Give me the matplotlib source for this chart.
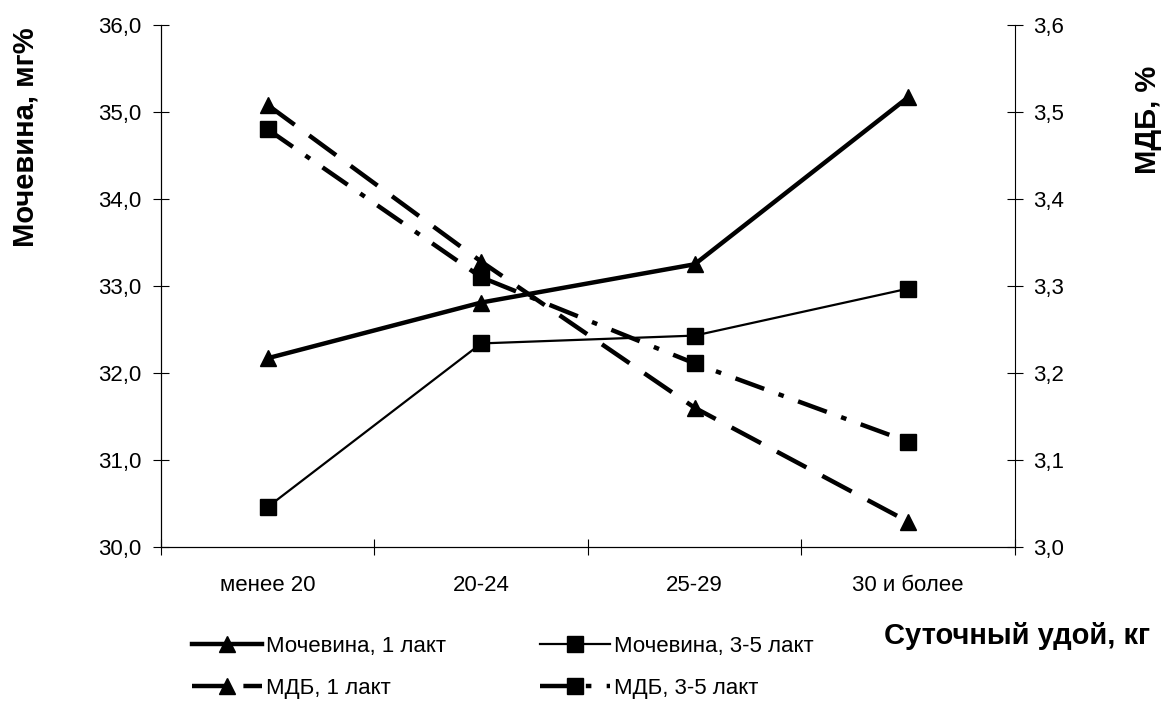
import matplotlib
matplotlib.use('Agg')
import matplotlib.pyplot as plt
from matplotlib.ticker import FuncFormatter

plt.rcParams['font.family'] = ['Liberation Sans', 'DejaVu Sans']
plt.rcParams['lines.scale_dashes'] = False

# группы по суточному удою
categories = ['менее 20', '20-24', '25-29', '30 и более']

# мочевина, мг%
urea_1 = [32.17, 32.81, 33.25, 35.17]
urea_35 = [30.46, 32.34, 32.43, 32.97]

# МДБ, %
mdb_1 = [3.508, 3.328, 3.160, 3.029]
mdb_35 = [3.480, 3.310, 3.211, 3.121]

x = list(range(len(categories)))
fs = 16

fig = plt.figure(figsize=(11.65, 7.01), dpi=100)
ax = fig.add_axes([0.1382, 0.2197, 0.7330, 0.7446])
ax2 = ax.twinx()

l1, = ax.plot(x, urea_1, color='black', lw=3.2, marker='^', ms=12,
              label='Мочевина, 1 лакт')
l2, = ax.plot(x, urea_35, color='black', lw=1.6, marker='s', ms=11,
              label='Мочевина, 3-5 лакт')
l3, = ax2.plot(x, mdb_1, color='black', lw=3.2, marker='^', ms=12,
               dashes=(24, 13), label='МДБ, 1 лакт')
l4, = ax2.plot(x, mdb_35, color='black', lw=3.2, marker='s', ms=11,
               dashes=(22, 11, 4, 11), label='МДБ, 3-5 лакт')

ax.set_xlim(-0.5, 3.5)
ax.set_ylim(30, 36)
ax2.set_ylim(3.0, 3.6)

comma = lambda fmt: FuncFormatter(lambda v, p: (fmt % v).replace('.', ','))
ax.set_yticks([30, 31, 32, 33, 34, 35, 36])
ax.yaxis.set_major_formatter(comma('%.1f'))
ax2.set_yticks([3.0, 3.1, 3.2, 3.3, 3.4, 3.5, 3.6])
ax2.yaxis.set_major_formatter(comma('%.1f'))

# деления между группами, подписи групп по центру
ax.set_xticks([-0.5, 0.5, 1.5, 2.5, 3.5])
ax.set_xticklabels([])
ax.set_xticks(x, minor=True)
ax.set_xticklabels(categories, minor=True)
ax.tick_params(axis='x', which='minor', length=0, pad=20, labelsize=fs)
ax.tick_params(axis='x', which='major', direction='inout', length=12, width=0.8)
ax.tick_params(axis='y', direction='inout', length=12, width=0.8, pad=8, labelsize=fs)
ax2.tick_params(axis='y', direction='inout', length=12, width=0.8, pad=7, labelsize=fs)

for a in (ax, ax2):
    a.spines['top'].set_visible(False)
    for s in ('left', 'right', 'bottom'):
        a.spines[s].set_linewidth(0.8)
ax.spines['right'].set_visible(False)

fig.text(0.0223, 0.805, 'Мочевина, мг%', rotation=90, ha='center', va='center',
         fontsize=21, fontweight='bold')
fig.text(0.9854, 0.829, 'МДБ, %', rotation=90, ha='center', va='center',
         fontsize=21, fontweight='bold')
fig.text(0.873, 0.093, 'Суточный удой, кг', ha='center', va='center',
         fontsize=21, fontweight='bold')

# легенда в две колонки: 1 лакт и 3-5 лакт
leg_kw = dict(loc='upper left', frameon=False, fontsize=fs, handlelength=3.15,
              handletextpad=0.2, labelspacing=0.95, borderaxespad=0, borderpad=0)
fig.legend(handles=[l1, l3], bbox_to_anchor=(192 / 1165, 1 - 636 / 701), **leg_kw)
fig.legend(handles=[l2, l4], bbox_to_anchor=(540 / 1165, 1 - 636 / 701), **leg_kw)

fig.savefig('out.png', dpi=100)
